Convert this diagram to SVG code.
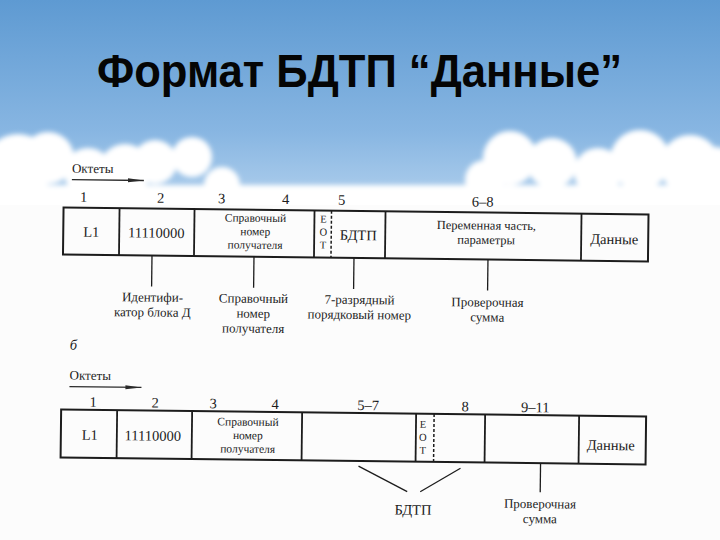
<svg xmlns="http://www.w3.org/2000/svg" width="720" height="540" viewBox="0 0 720 540">
<style>
.t{font-family:"Liberation Serif","DejaVu Serif","Times New Roman",serif;font-size:14.5px;fill:#1c1c1c}
.c{text-anchor:middle}
.l{font-size:13px}
.s{font-size:11.5px}
.p{font-size:12.5px}
.e{font-size:10.5px}
.box{fill:none;stroke:#1c1c1c;stroke-width:2}
.dv{stroke:#1c1c1c;stroke-width:1.8}
.dash{stroke:#1c1c1c;stroke-width:1.5;stroke-dasharray:3 2}
.conn{stroke:#1c1c1c;stroke-width:1.3;fill:none}
.arr{stroke:#2a2a2a;stroke-width:1.3;marker-end:url(#ah)}
.cl{fill:#ffffff}
</style>
<defs>
<linearGradient id="sky" x1="0" y1="0" x2="0" y2="1">
<stop offset="0" stop-color="#5e9ad2"/>
<stop offset="0.6" stop-color="#88b6e2"/>
<stop offset="1" stop-color="#b9d5ef"/>
</linearGradient>
<filter id="blur" x="-10%" y="-20%" width="120%" height="140%"><feGaussianBlur stdDeviation="2.5"/></filter>
<marker id="ah" markerUnits="userSpaceOnUse" markerWidth="18" markerHeight="6" refX="16" refY="3" orient="auto">
<path d="M0,1 L16,3 L0,5 z" fill="#2a2a2a"/>
</marker>
</defs>
<rect x="0" y="0" width="720" height="220" fill="url(#sky)"/>
<g id="clouds" filter="url(#blur)">
<circle class="cl" cx="18" cy="168" r="34"/>
<circle class="cl" cx="48" cy="158" r="26"/>
<circle class="cl" cx="88" cy="172" r="24"/>
<circle class="cl" cx="125" cy="170" r="26"/>
<circle class="cl" cx="155" cy="162" r="22"/>
<circle class="cl" cx="192" cy="157" r="20"/>
<circle class="cl" cx="222" cy="185" r="18"/>
<circle class="cl" cx="255" cy="205" r="14"/>
<circle class="cl" cx="290" cy="208" r="12"/>
<circle class="cl" cx="330" cy="206" r="12"/>
<circle class="cl" cx="370" cy="207" r="11"/>
<circle class="cl" cx="410" cy="206" r="12"/>
<circle class="cl" cx="450" cy="204" r="14"/>
<circle class="cl" cx="485" cy="180" r="20"/>
<circle class="cl" cx="510" cy="158" r="27"/>
<circle class="cl" cx="552" cy="163" r="25"/>
<circle class="cl" cx="598" cy="172" r="24"/>
<circle class="cl" cx="640" cy="160" r="30"/>
<circle class="cl" cx="690" cy="165" r="30"/>
<circle class="cl" cx="715" cy="172" r="25"/>
<rect class="cl" x="-10" y="185" width="740" height="40"/>
</g>
<rect x="0" y="205" width="720" height="335" fill="#fcfcfc"/>
<g id="title">
<text x="97" y="87" textLength="525" lengthAdjust="spacingAndGlyphs" style="font-family:'Liberation Sans',Arial,sans-serif;font-weight:bold;font-size:46px;fill:#050505">Формат БДТП “Данные”</text>
</g>
<g id="diagram" transform="rotate(0.68 355 340)">
<g id="fmt-a">
<text class="t l" x="70" y="176">Октеты</text>
<line class="arr" x1="70" y1="183" x2="142" y2="183"/>
<text class="t c" x="82" y="205">1</text>
<text class="t c" x="159" y="205">2</text>
<text class="t c" x="220" y="205">3</text>
<text class="t c" x="284" y="205">4</text>
<text class="t c" x="340" y="205">5</text>
<text class="t c" x="481" y="205">6–8</text>
<rect class="box" x="62" y="211" width="585" height="47"/>
<g id="a-l1"><line class="dv" x1="118" y1="211" x2="118" y2="258"/><text class="t c" x="90" y="240">L1</text></g>
<g id="a-id"><line class="dv" x1="193" y1="211" x2="193" y2="258"/><text class="t c" x="155" y="240">11110000</text></g>
<g id="a-ref"><line class="dv" x1="313" y1="211" x2="313" y2="258"/>
<text class="t c s" x="254" y="223">Справочный</text><text class="t c s" x="254" y="236.5">номер</text><text class="t c s" x="254" y="250">получателя</text></g>
<g id="a-eot"><line class="dash" x1="330" y1="211" x2="330" y2="258"/>
<text class="t c e" x="322" y="223">E</text><text class="t c e" x="322" y="236">O</text><text class="t c e" x="322" y="249">T</text></g>
<g id="a-bdtp"><line class="dv" x1="384" y1="211" x2="384" y2="258"/><text class="t c" x="357" y="240">БДТП</text></g>
<g id="a-var"><line class="dv" x1="580" y1="211" x2="580" y2="258"/>
<text class="t c p" x="485" y="228">Переменная часть,</text><text class="t c p" x="485" y="242.5">параметры</text></g>
<g id="a-data"><text class="t c" x="613" y="241">Данные</text></g>
<g id="a-connectors">
<line class="conn" x1="151" y1="258" x2="151" y2="289"/>
<line class="conn" x1="253" y1="258" x2="253" y2="289"/>
<line class="conn" x1="353" y1="258" x2="353" y2="289"/>
<line class="conn" x1="487" y1="258" x2="487" y2="289"/>
</g>
<g id="a-lbl1"><text class="t c l" x="152" y="304">Идентифи-</text><text class="t c l" x="152" y="319">катор  блока Д</text></g>
<g id="a-lbl2"><text class="t c l" x="253" y="304">Справочный</text><text class="t c l" x="253" y="319">номер</text><text class="t c l" x="253" y="334">получателя</text></g>
<g id="a-lbl3"><text class="t c l" x="359" y="304">7-разрядный</text><text class="t c l" x="359" y="319">порядковый номер</text></g>
<g id="a-lbl4"><text class="t c l" x="487" y="305">Проверочная</text><text class="t c l" x="487" y="320">сумма</text></g>
</g>
<text class="t" x="70" y="353" style="font-style:italic">б</text>
<g id="fmt-b">
<text class="t l" x="70" y="383">Октеты</text>
<line class="arr" x1="70" y1="390" x2="142" y2="390"/>
<text class="t c" x="94" y="410">1</text>
<text class="t c" x="156" y="410">2</text>
<text class="t c" x="214" y="410">3</text>
<text class="t c" x="276" y="410">4</text>
<text class="t c" x="369" y="410">5–7</text>
<text class="t c" x="466" y="410">8</text>
<text class="t c" x="536" y="410">9–11</text>
<rect class="box" x="62" y="413" width="585" height="48"/>
<g id="b-l1"><line class="dv" x1="118" y1="413" x2="118" y2="461"/><text class="t c" x="91" y="443">L1</text></g>
<g id="b-id"><line class="dv" x1="193" y1="413" x2="193" y2="461"/><text class="t c" x="154" y="443">11110000</text></g>
<g id="b-ref"><line class="dv" x1="303" y1="413" x2="303" y2="461"/>
<text class="t c s" x="249" y="427">Справочный</text><text class="t c s" x="249" y="440.5">номер</text><text class="t c s" x="249" y="454">получателя</text></g>
<g id="b-seq"><line class="dv" x1="417" y1="413" x2="417" y2="461"/></g>
<g id="b-eot"><line class="dash" x1="435" y1="413" x2="435" y2="461"/>
<text class="t c e" x="424" y="427">E</text><text class="t c e" x="424" y="440">O</text><text class="t c e" x="424" y="453">T</text></g>
<g id="b-bdtp"><line class="dv" x1="486" y1="413" x2="486" y2="461"/></g>
<g id="b-var"><line class="dv" x1="580" y1="413" x2="580" y2="461"/></g>
<g id="b-data"><text class="t c" x="612" y="447">Данные</text></g>
<g id="b-connectors">
<line class="conn" x1="360" y1="466" x2="409" y2="491"/>
<line class="conn" x1="462" y1="467" x2="422" y2="491"/>
<line class="conn" x1="542" y1="461" x2="542" y2="490"/>
</g>
<g id="b-lbl1"><text class="t c" x="415" y="514">БДТП</text></g>
<g id="b-lbl2"><text class="t c l" x="542" y="506">Проверочная</text><text class="t c l" x="542" y="521">сумма</text></g>
</g>
</g>
</svg>
